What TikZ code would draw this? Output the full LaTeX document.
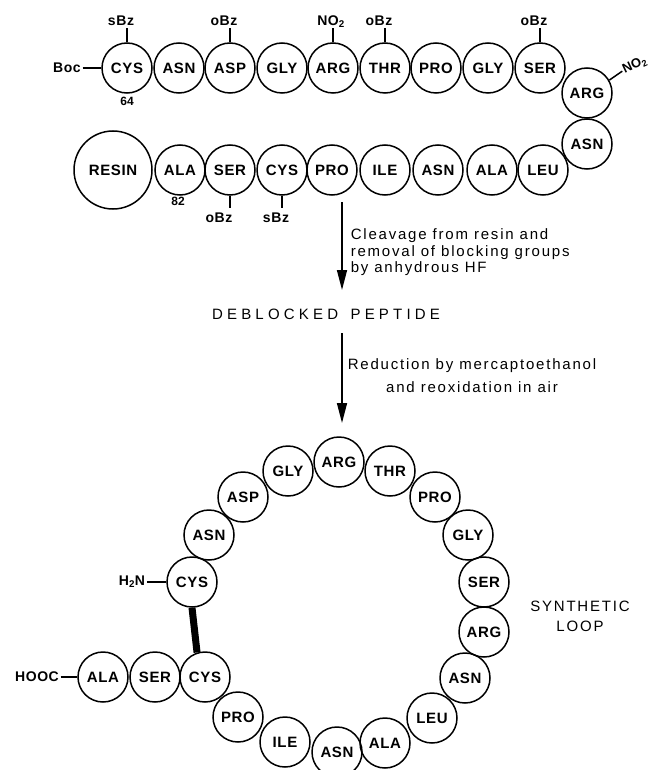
\documentclass[tikz,border=0pt]{standalone}
\usepackage{fontspec}
\setmainfont{Liberation Sans}
\newfontfamily\labelfont[LetterSpace=4]{Liberation Sans}
\newfontfamily\tracked[LetterSpace=12]{Liberation Sans}
\newfontfamily\widetracked[LetterSpace=28]{Liberation Sans}
\usetikzlibrary{arrows.meta}

\begin{document}
\begin{tikzpicture}[x=1pt, y=-1pt, line width=1.5pt,
    residue/.style={circle, draw, minimum size=50pt, inner sep=0pt, font=\fontsize{15}{17}\selectfont\labelfont\bfseries},
    group/.style={inner sep=1pt, font=\fontsize{14}{16}\selectfont\labelfont\bfseries},
    seqno/.style={inner sep=1pt, font=\fontsize{12}{14}\selectfont\bfseries},
    note/.style={inner sep=0pt, font=\fontsize{15}{16.5}\selectfont\tracked},
    reaction/.style={-{Triangle[length=20pt, width=10pt]}}]

        \useasboundingbox (0,0) rectangle (660,770);
        \clip (0,0) rectangle (660,770);

        % blocked chain on the resin
        \node[residue] (cys64) at (127,68) {CYS};
        \node[residue] (asn65) at (179,68) {ASN};
        \node[residue] (asp66) at (230,68) {ASP};
        \node[residue] (gly67) at (282,68) {GLY};
        \node[residue] (arg68) at (333,68) {ARG};
        \node[residue] (thr69) at (385,68) {THR};
        \node[residue] (pro70) at (436,68) {PRO};
        \node[residue] (gly71) at (488,68) {GLY};
        \node[residue] (ser72) at (540,68) {SER};
        \node[residue] (arg73) at (587,93) {ARG};
        \node[residue] (asn74) at (587,144) {ASN};
        \node[residue] (leu75) at (543,170) {LEU};
        \node[residue] (ala76) at (492,170) {ALA};
        \node[residue] (asn77) at (438,170) {ASN};
        \node[residue] (ile78) at (385,170) {ILE};
        \node[residue] (pro79) at (332,170) {PRO};
        \node[residue] (cys80) at (282,170) {CYS};
        \node[residue] (ser81) at (230,170) {SER};
        \node[residue] (ala82) at (180,170) {ALA};
        \node[residue, minimum size=78pt] (resin) at (113,170) {RESIN};

        \node[group] (boc) at (67,68) {Boc};
        \draw (boc) -- (cys64);
        \node[seqno] (no64) at (127,101) {64};
        \node[seqno] (no82) at (178,201) {82};

        \draw (cys64.north) -- ++(0,-14) node[group, anchor=base, xshift=-6pt, yshift=3pt] (bz64) {sBz};
        \draw (asp66.north) -- ++(0,-14) node[group, anchor=base, xshift=-6pt, yshift=3pt] (bz66) {oBz};
        \draw (arg68.north) -- ++(0,-14) node[group, anchor=base, xshift=-2pt, yshift=3pt] (no68) {NO\textsubscript{2}};
        \draw (thr69.north) -- ++(0,-14) node[group, anchor=base, xshift=-6pt, yshift=3pt] (bz69) {oBz};
        \draw (ser72.north) -- ++(0,-14) node[group, anchor=base, xshift=-6pt, yshift=3pt] (bz72) {oBz};
        \draw (arg73.30) -- ++(13,-9) node[group, anchor=west, rotate=25, inner sep=0.5pt, font=\fontsize{13}{15}\selectfont\bfseries] (no73) {NO\textsubscript{2}};
        \draw (ser81.south) -- ++(0,12) node[group, anchor=base, xshift=-11pt, yshift=-15pt] (bz81) {oBz};
        \draw (cys80.south) -- ++(0,12) node[group, anchor=base, xshift=-6pt, yshift=-15pt] (bz80) {sBz};

        % reaction steps
        \coordinate (cleave) at (342,202);
        \coordinate (deblock) at (342,290);
        \draw[reaction] (cleave) -- (deblock);
        \node[note, anchor=north west, align=left] (hf) at (350,228) {Cleavage from resin and\\removal of blocking groups\\by anhydrous HF};

        \node[inner sep=0pt, font=\fontsize{15}{17}\selectfont\widetracked] (peptide) at (326,314) {DEBLOCKED\hspace{4pt} PEPTIDE};

        \coordinate (reduce) at (342,333);
        \coordinate (oxidise) at (342,423);
        \draw[reaction] (reduce) -- (oxidise);
        \node[note, anchor=north, align=center] (air) at (472,358) {Reduction by mercaptoethanol\\[6pt]and reoxidation in air};

        % synthetic loop
        \node[residue] (l64) at (192,582) {CYS};
        \node[residue] (l65) at (209,535) {ASN};
        \node[residue] (l66) at (243,497) {ASP};
        \node[residue] (l67) at (288,471) {GLY};
        \node[residue] (l68) at (339,462) {ARG};
        \node[residue] (l69) at (390,471) {THR};
        \node[residue] (l70) at (435,497) {PRO};
        \node[residue] (l71) at (468,535) {GLY};
        \node[residue] (l72) at (484,582) {SER};
        \node[residue] (l73) at (484,632) {ARG};
        \node[residue] (l74) at (465,678) {ASN};
        \node[residue] (l75) at (432,718) {LEU};
        \node[residue] (l76) at (385,743) {ALA};
        \node[residue] (l77) at (337,752) {ASN};
        \node[residue] (l78) at (285,742) {ILE};
        \node[residue] (l79) at (238,717) {PRO};
        \node[residue] (l80) at (205,677) {CYS};
        \node[residue] (l81) at (155,677) {SER};
        \node[residue] (l82) at (103,677) {ALA};

        \node[group] (amino) at (132,582) {H\textsubscript{2}N};
        \draw (amino) -- (l64);
        \node[group] (carboxy) at (37,677) {HOOC};
        \draw (carboxy) -- (l82);
        \draw[line width=7pt] (l64.south) -- (l80.108);

        \node[inner sep=0pt, align=center, font=\fontsize{15}{20}\selectfont\tracked] (looplabel) at (580,616) {SYNTHETIC\\LOOP};
    \end{tikzpicture}
\end{document}
